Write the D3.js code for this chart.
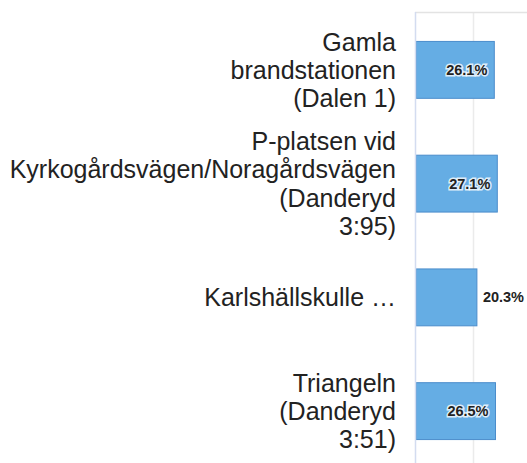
<!DOCTYPE html>
<html lang="sv">
  <head>
    <meta charset="utf-8">
    <title>Andel per plats</title>
    <script src="https://d3js.org/d3.v7.min.js"></script>
    <style>
      body { margin: 0; background: #fff; }
      text { font-family: "Liberation Sans", Arial, sans-serif; }
    </style>
  </head>
  <body>
    <script>

// data
var categories = ["Gamla brandstationen (Dalen 1)",
                  "P-platsen vid Kyrkogårdsvägen/Noragårdsvägen (Danderyd 3:95)",
                  "Karlshällskulle …",
                  "Triangeln (Danderyd 3:51)"];
var labelLines = [["Gamla", "brandstationen", "(Dalen 1)"],
                  ["P-platsen vid", "Kyrkogårdsvägen/Noragårdsvägen", "(Danderyd", "3:95)"],
                  ["Karlshällskulle …"],
                  ["Triangeln", "(Danderyd", "3:51)"]];
var values = [0.261, 0.271, 0.203, 0.265];
var gridTicks = [0.19];

var w = 527, h = 463;
var plot = {left: 416, top: 13, bottom: 468};

var svg = d3.select("body").append("svg")
  .attr("width", w)
  .attr("height", h);

// scales
var xScale = d3.scaleLinear()
  .domain([0, 0.30])
  .range([plot.left, plot.left + 90]);

var yScale = d3.scaleBand()
  .domain(categories)
  .range([plot.top, plot.bottom])
  .paddingInner(0.5)
  .paddingOuter(0.25);

// vertical gridlines
var grid = d3.axisBottom(xScale)
  .tickValues(gridTicks)
  .tickSize(-(plot.bottom - plot.top))
  .tickFormat("");

svg.append("g")
  .attr("transform", "translate(0," + plot.bottom + ")")
  .call(grid)
  .call(function(g){
    g.select(".domain").remove();
    g.selectAll("line").attr("stroke", "#ebebeb").attr("stroke-width", 1.5);
  });

// top border of plot
svg.append("line")
  .attr("x1", plot.left - 1).attr("x2", w)
  .attr("y1", plot.top - 0.5).attr("y2", plot.top - 0.5)
  .attr("stroke", "#e3e3e3")
  .attr("stroke-width", 1.5);

// bars
svg.selectAll("rect.bar")
  .data(values)
  .enter()
  .append("rect")
  .attr("class", "bar")
  .attr("x", xScale(0))
  .attr("y", function(d, i){ return yScale(categories[i]); })
  .attr("width", function(d){ return xScale(d) - xScale(0); })
  .attr("height", yScale.bandwidth())
  .attr("fill", "#65ade4")
  .attr("stroke", "#4b8dcb")
  .attr("stroke-width", 1);

// base axis line
svg.append("line")
  .attr("x1", plot.left - 0.5).attr("x2", plot.left - 0.5)
  .attr("y1", plot.top - 1).attr("y2", h)
  .attr("stroke", "#d3dcf0")
  .attr("stroke-width", 1.5);

// value labels
var fmt = d3.format(".1%");
var labels = svg.selectAll("text.val")
  .data(values)
  .enter()
  .append("text")
  .attr("class", "val")
  .attr("y", function(d, i){ return yScale(categories[i]) + yScale.bandwidth() / 2 + 5; })
  .attr("x", function(d){ return d < 0.22 ? xScale(d) + 6 : xScale(d) - 7; })
  .attr("text-anchor", function(d){ return d < 0.22 ? "start" : "end"; })
  .attr("font-size", "14.5px")
  .attr("font-weight", "bold")
  .attr("fill", "#222")
  .attr("stroke", function(d){ return d < 0.22 ? "none" : "#fff"; })
  .attr("stroke-width", 3)
  .attr("stroke-opacity", 0.8)
  .attr("paint-order", "stroke")
  .text(function(d){ return fmt(d); });

// category labels
var lineH = 28.3;
svg.selectAll("text.cat")
  .data(labelLines)
  .enter()
  .append("text")
  .attr("class", "cat")
  .attr("text-anchor", "end")
  .attr("font-size", "25px")
  .attr("fill", "#222")
  .each(function(lines, i){
    var cy = yScale(categories[i]) + yScale.bandwidth() / 2 + 9;
    var t = d3.select(this);
    lines.forEach(function(s, j){
      t.append("tspan")
        .attr("x", 396)
        .attr("y", cy + (j - (lines.length - 1) / 2) * lineH)
        .text(s);
    });
  });

    </script>
  </body>
</html>
